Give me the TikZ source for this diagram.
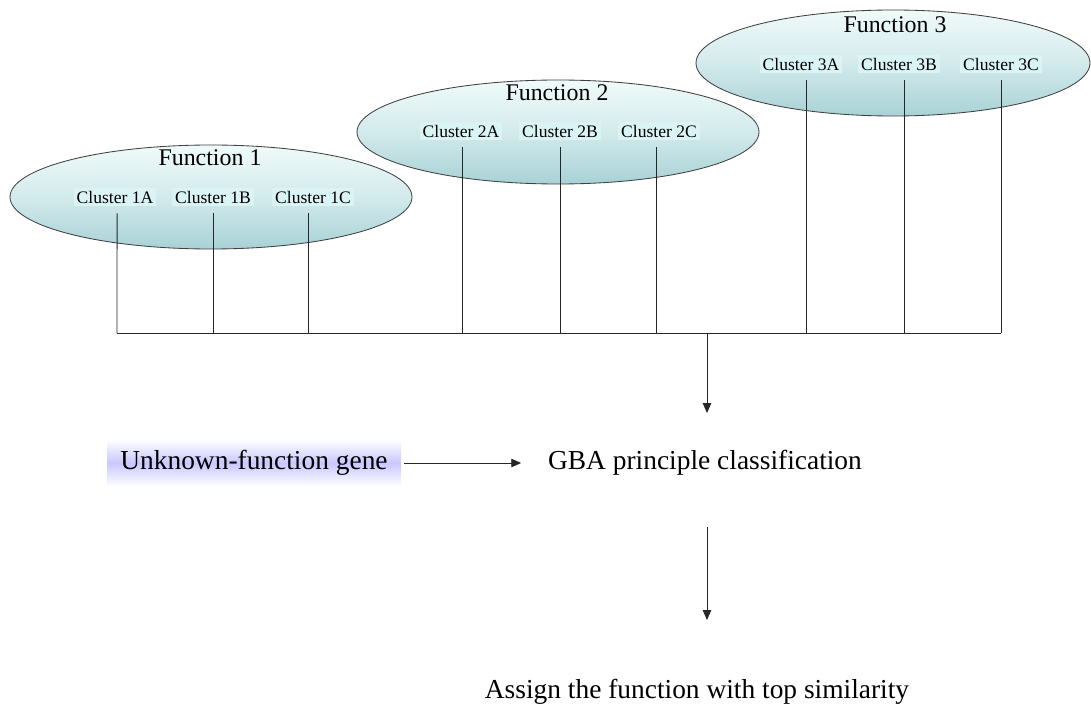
\documentclass[tikz,border=0pt]{standalone}
\usepackage{fontspec}
\setmainfont{Liberation Serif}
\usetikzlibrary{arrows.meta}
\definecolor{ellTop}{RGB}{240,250,250}
\definecolor{ellBot}{RGB}{168,210,214}
\definecolor{clusterBg}{RGB}{218,244,246}
\definecolor{geneBg}{RGB}{200,200,255}
\begin{document}
\begin{tikzpicture}[x=0.025cm,y=-0.025cm,
  funcell/.style={draw=black!75,line width=0.6pt,top color=ellTop,bottom color=ellBot,middle color=ellTop!60!ellBot},
  functitle/.style={font=\fontsize{17}{20}\selectfont,inner sep=0pt},
  cluster/.style={font=\fontsize{12.5}{15}\selectfont,fill=clusterBg,inner sep=2pt},
  link/.style={line width=0.6pt,black!85},
  flow/.style={line width=0.6pt,black!85,-{Triangle[length=7pt,width=6pt]}},
  bigtext/.style={font=\fontsize{19.5}{23}\selectfont,inner sep=2pt}]
\useasboundingbox (0,0) rectangle (1091,708);
\fill[white] (0,0) rectangle (1091,708);

% three function ellipses
\draw[funcell] (211,197) ellipse [x radius=201, y radius=52];
\draw[funcell] (558,132) ellipse [x radius=201, y radius=52];
\draw[funcell] (893,63) ellipse [x radius=197, y radius=53];

\node[functitle] (f1) at (210,158) {Function 1};
\node[functitle] (f2) at (557,93) {Function 2};
\node[functitle] (f3) at (895,25) {Function 3};

% cluster labels
\node[cluster] (c1a) at (115,197) {Cluster 1A};
\node[cluster] (c1b) at (213,197) {Cluster 1B};
\node[cluster] (c1c) at (313,197) {Cluster 1C};
\node[cluster] (c2a) at (461,131) {Cluster 2A};
\node[cluster] (c2b) at (560,131) {Cluster 2B};
\node[cluster] (c2c) at (659,131) {Cluster 2C};
\node[cluster] (c3a) at (801,64) {Cluster 3A};
\node[cluster] (c3b) at (899,64) {Cluster 3B};
\node[cluster] (c3c) at (1001,64) {Cluster 3C};

% collecting bus
\coordinate (busL) at (117,333);
\coordinate (busR) at (1001,333);
\coordinate (busM) at (707,333);
\coordinate (gbaIn) at (707,413);

\draw[link] (busL) -- (busR);
\draw[link] ([xshift=1.5pt,yshift=-5pt]c1a.south) -- (busL);
\foreach \c/\dx in {c1b/0,c2b/0,c3b/4}
  \draw[link] ([xshift=\dx pt,yshift=-5pt]\c.south) -- ([xshift=\dx pt]\c.south |- busL);
\draw[link] ([xshift=-3pt,yshift=-5pt]c1c.south) -- ([xshift=-3pt]c1c.south |- busL);
\draw[link] ([xshift=0.7pt,yshift=-5pt]c2a.south) -- ([xshift=0.7pt]c2a.south |- busL);
\draw[link] ([xshift=-2pt,yshift=-5pt]c2c.south) -- ([xshift=-2pt]c2c.south |- busL);
\draw[link] ([xshift=4pt,yshift=-5pt]c3a.south) -- ([xshift=4pt]c3a.south |- busL);
\draw[link] ([yshift=-5pt]c3c.south) -- (busR);

\draw[flow] (busM) -- (gbaIn);

% classification step
\node[bigtext,minimum width=294*0.025cm,minimum height=47*0.025cm,
      top color=white,bottom color=white,middle color=geneBg] (gene) at (254,463) {Unknown-function gene};
\node[bigtext] (gba) at (705,463) {GBA principle classification};
\node[bigtext] (assign) at (697,692) {Assign the function with top similarity};

\coordinate (gbaOut) at (707,527);
\coordinate (assignIn) at (707,620);
\draw[flow] ([xshift=2pt]gene.east) -- ([xshift=-17pt]gba.west);
\draw[flow] (gbaOut) -- (assignIn);
\end{tikzpicture}
\end{document}
